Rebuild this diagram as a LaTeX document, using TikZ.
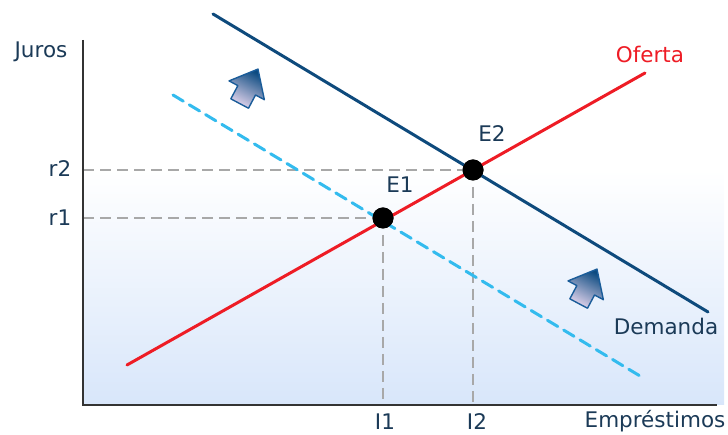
\documentclass[tikz,border=0pt]{standalone}
\usepackage{fontspec}
\setmainfont{DejaVu Sans}
\definecolor{txt}{HTML}{1B3A57}
\definecolor{demandc}{HTML}{0E4A7C}
\definecolor{supplyc}{HTML}{EE1C25}
\definecolor{cyanc}{HTML}{33BBEE}
\definecolor{guide}{HTML}{A8A8A8}
\definecolor{axisc}{HTML}{333333}
\definecolor{bgblue}{HTML}{D8E6FA}
\definecolor{arrdark}{HTML}{0B4A80}
\definecolor{arrlight}{HTML}{E6D6EE}
\definecolor{arrline}{HTML}{1A5C99}
\tikzset{
  lbl/.style={font=\fontsize{21.5}{25}\selectfont, text=txt, inner sep=0pt, anchor=base},
  curve/.style={line width=3pt, line cap=round},
  guideline/.style={guide, line width=2.8pt, dash pattern=on 11pt off 6pt},
  eqdot/.style={circle, fill=black, minimum size=21pt, inner sep=0pt},
  shiftarrow/.pic={
    \shade[draw=arrline, line width=1.4pt, line join=round,
      top color=arrdark, middle color=arrdark!70!arrlight, bottom color=arrlight, shading angle=-28]
      (-15,-10) -- (0,-10) -- (0,-20) -- (24,0) -- (0,20) -- (0,10) -- (-15,10) -- cycle;
  }
}
\begin{document}
\begin{tikzpicture}[x=1pt,y=1pt]
\useasboundingbox (0,0) rectangle (728,435);
% background
\shade[top color=white, bottom color=bgblue] (83,30) rectangle (724,265);
% guides
\coordinate (O) at (83,30);
\node[eqdot] (E1) at (383,217) {};
\node[eqdot] (E2) at (473,265) {};
\coordinate (r1y) at (83,217);
\coordinate (r2y) at (83,265);
\coordinate (i1x) at (383,30);
\coordinate (i2x) at (473,30);
\draw[guideline] (r2y) -- (E2.center);
\draw[guideline] (r1y) -- (E1.center);
\draw[guideline] (E1.center) -- (i1x);
\draw[guideline] (E2.center) -- (i2x);
% curves
\coordinate (c1) at (173,340);
\coordinate (c2) at (640,59);
\draw[curve, cyanc, dash pattern=on 12pt off 7pt] (c1) -- (c2);
\coordinate (s1) at (127,70);
\coordinate (s2) at (645,362);
\draw[curve, supplyc] (s1) -- (s2);
\coordinate (d1) at (213,421);
\coordinate (d2) at (708,123);
\draw[curve, demandc] (d1) -- (d2);
% dots on top
\node[eqdot] at (E1) {};
\node[eqdot] at (E2) {};
% axes
\coordinate (ytop) at (83,395);
\coordinate (xend) at (717,30);
\draw[axisc, line width=2.8pt] (ytop) -- (O) -- (xend);
% arrows
\pic[rotate=62] at (246.7,344.7) {shiftarrow};
\pic[rotate=62] at (585.7,144.7) {shiftarrow};
% labels
\node[lbl] (juros) at (41,377) {Juros};
\node[lbl] (r2) at (60,258) {r2};
\node[lbl] (r1) at (60,209) {r1};
\node[lbl] (i1) at (385,5) {I1};
\node[lbl] (i2) at (477,5) {I2};
\node[lbl] (emp) at (655,7) {Empréstimos};
\node[lbl, text=supplyc] (oferta) at (650,372) {Oferta};
\node[lbl] (demanda) at (666,100) {Demanda};
\node[lbl] (e1l) at (400,242) {E1};
\node[lbl] (e2l) at (492,293) {E2};
\end{tikzpicture}
\end{document}
